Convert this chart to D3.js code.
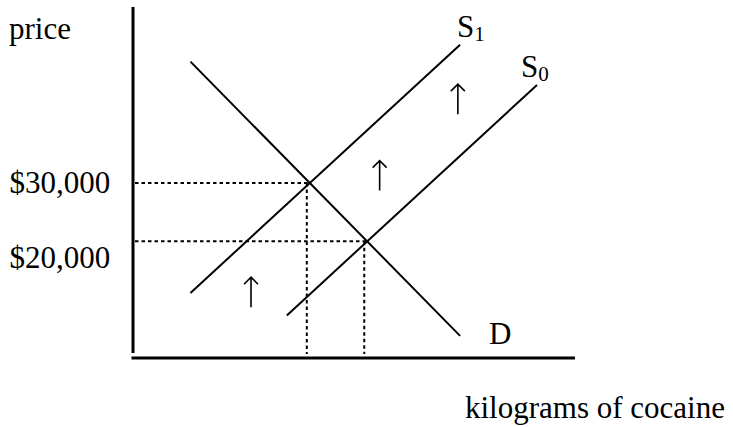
<!DOCTYPE html>
<html>
<head>
<meta charset="utf-8">
<script src="https://cdn.jsdelivr.net/npm/d3@7"></script>
<style>
  body { margin: 0; background: #fff; }
  text { font-family: "Liberation Serif", "Times New Roman", serif; fill: #000; }
</style>
</head>
<body>
<svg></svg>
<script>
// Taille de la page
const width = 733;
const height = 427;

// Courbes (quantité, prix)
const demand = [{ q: 13, p: 50800 }, { q: 74, p: 3800 }];
const supply1 = [{ q: 13, p: 11150 }, { q: 74, p: 53700 }];
const supply0 = [{ q: 34.8, p: 7300 }, { q: 91.4, p: 46800 }];

// Équilibres
const equilibria = [{ q: 40, p: 30000 }, { q: 53, p: 20000 }];

// Étiquettes de prix
const priceTicks = [30000, 20000];
const priceLabels = ["$30,000", "$20,000"];

// Flèches de déplacement de l'offre (base de la flèche)
const shiftArrows = [{ q: 26.7, p: 8700 }, { q: 55.8, p: 28700 }, { q: 73.5, p: 41800 }];

const svg = d3.select("svg")
    .attr("width", width)
    .attr("height", height);

const x = d3.scaleLinear().domain([0, 100]).range([133, 575]);
const y = d3.scaleLinear().domain([0, 60000]).range([358, 8]);

const line = d3.line().x(d => x(d.q)).y(d => y(d.p));

// Axes
svg.append("line")
    .attr("x1", x(0)).attr("x2", x(0))
    .attr("y1", y(60000) - 1).attr("y2", y(0) - 5)
    .attr("stroke", "#000").attr("stroke-width", 3);

svg.append("line")
    .attr("x1", x(0) - 1.5).attr("x2", x(100))
    .attr("y1", y(0)).attr("y2", y(0))
    .attr("stroke", "#000").attr("stroke-width", 3);

// Pointillés vers les axes
svg.selectAll(".hguide")
    .data(equilibria)
    .enter()
    .append("line")
    .attr("class", "hguide")
    .attr("x1", x(0) + 2).attr("x2", d => x(d.q))
    .attr("y1", d => y(d.p)).attr("y2", d => y(d.p))
    .attr("stroke", "#000").attr("stroke-width", 2)
    .attr("stroke-dasharray", "3.5,3");

svg.selectAll(".vguide")
    .data(equilibria)
    .enter()
    .append("line")
    .attr("class", "vguide")
    .attr("x1", d => x(d.q) - 3).attr("x2", d => x(d.q) - 3)
    .attr("y1", d => y(d.p)).attr("y2", y(0) - 4)
    .attr("stroke", "#000").attr("stroke-width", 2)
    .attr("stroke-dasharray", "3.5,3");

// Courbes d'offre et de demande
svg.selectAll(".curve")
    .data([demand, supply1, supply0])
    .enter()
    .append("path")
    .attr("class", "curve")
    .attr("d", line)
    .attr("fill", "none")
    .attr("stroke", "#000")
    .attr("stroke-width", 2);

// Flèches vers le haut
const arrowLen = 30;
svg.selectAll(".arrow")
    .data(shiftArrows)
    .enter()
    .append("path")
    .attr("class", "arrow")
    .attr("d", d => {
        const ax = x(d.q), ay = y(d.p);
        const tip = ay - arrowLen;
        return `M${ax},${ay}V${tip}M${ax - 7},${tip + 7}L${ax},${tip}L${ax + 7},${tip + 7}`;
    })
    .attr("fill", "none")
    .attr("stroke", "#000")
    .attr("stroke-width", 1.6);

// Étiquettes de prix
svg.selectAll(".plabel")
    .data(priceTicks)
    .enter()
    .append("text")
    .attr("class", "plabel")
    .attr("x", 9.5)
    .attr("y", (d, i) => y(d) + (i === 0 ? 10 : 27))
    .attr("font-size", 31)
    .text((d, i) => priceLabels[i]);

// Titres des axes
svg.append("text")
    .attr("x", 9).attr("y", 39)
    .attr("font-size", 31)
    .text("price");

svg.append("text")
    .attr("x", 465).attr("y", 418)
    .attr("font-size", 31)
    .text("kilograms of cocaine");

// Étiquettes des courbes
const curveLabels = [
    { name: "S", sub: "1", x: 457, y: 37 },
    { name: "S", sub: "0", x: 521, y: 77 },
    { name: "D", sub: "", x: 489, y: 344 }
];

curveLabels.forEach(c => {
    const t = svg.append("text")
        .attr("x", c.x).attr("y", c.y)
        .attr("font-size", 31);
    t.append("tspan").text(c.name);
    if (c.sub) {
        t.append("tspan")
            .attr("font-size", 21)
            .attr("dy", 3.5)
            .text(c.sub);
    }
});
</script>
</body>
</html>
